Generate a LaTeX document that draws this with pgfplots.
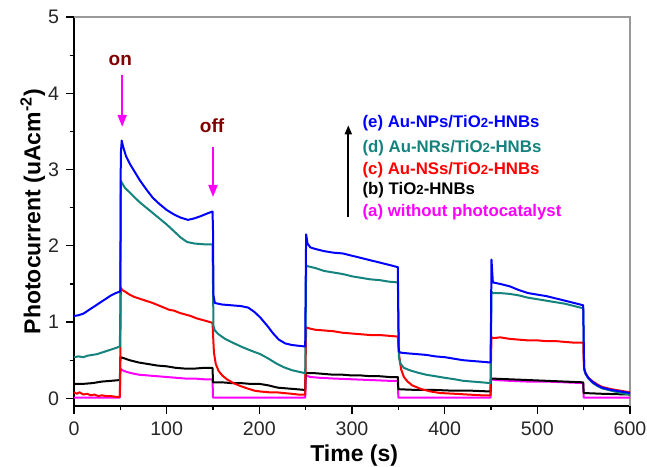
\documentclass[border=0pt]{standalone}
\usepackage{pgfplots}
\pgfplotsset{compat=1.18}
\usepackage{fontspec}
\setmainfont{Liberation Sans}
\usetikzlibrary{arrows.meta}

\definecolor{cE}{RGB}{0,0,255}
\definecolor{cD}{RGB}{20,130,125}
\definecolor{cC}{RGB}{255,0,0}
\definecolor{cB}{RGB}{0,0,0}
\definecolor{cA}{RGB}{255,0,255}
\definecolor{onoff}{RGB}{128,0,0}

\newcommand{\tio}{TiO{\fontsize{6.6}{7}\selectfont 2}}

\begin{document}
\begin{tikzpicture}
\begin{axis}[
    name=ax,
    scale only axis,
    width=278pt, height=194.5pt,
    xmin=0, xmax=600, ymin=-0.1, ymax=5,
    axis x line*=bottom, axis y line*=left,
    axis line style={-, line width=0.7pt},
    xtick={0,100,...,600}, minor xtick={50,150,...,550},
    ytick={0,1,...,5}, minor ytick={0.5,1.5,...,4.5},
    tick align=outside,
    major tick length=4pt, minor tick length=2.2pt,
    tick style={line width=0.6pt, black},
    /pgf/number format/assume math mode=true,
    ticklabel style={font=\fontsize{9.8}{11}\selectfont, text=black!85},
    xticklabel style={yshift=-0.5pt},
    xlabel={\textbf{Time (s)}},
    ylabel={\textbf{Photocurrent (uAcm\textsuperscript{-2})}},
    label style={font=\fontsize{11.5}{13}\selectfont},
    xlabel style={at={(axis description cs:0.504,-0.128)}, anchor=center},
    ylabel style={at={(axis description cs:-0.074,0.5)}, anchor=center},
    every axis plot/.append style={line width=1pt, line join=round},
    clip=false,
]
\draw[gray!80, line width=0.7pt] (rel axis cs:0,1) -- (rel axis cs:1,1) -- (rel axis cs:1,0);

% (a) without photocatalyst
\addplot[cA] coordinates {
(0,0.01) (49.5,0.01) (50,0.39) (52,0.37) (56,0.35) (62,0.33) (70,0.31) (80,0.30)
(90,0.29) (100,0.28) (110,0.27) (120,0.26) (130,0.26) (140,0.25) (149.5,0.25)
(150,0.01) (249.5,0.01) (250,0.30) (255,0.28) (265,0.27) (280,0.26) (300,0.25)
(320,0.24) (340,0.23) (349.5,0.23) (350,0.01) (449.5,0.01) (450,0.25) (455,0.24)
(470,0.23) (490,0.22) (510,0.22) (530,0.21) (549.5,0.20) (550,0.01) (600,0.01)
};
% (b) TiO2-HNBs
\addplot[cB] coordinates {
(0,0.19) (10,0.19) (20,0.20) (30,0.22) (40,0.23) (49.5,0.24) (50,0.54) (53,0.53)
(60,0.50) (70,0.47) (80,0.45) (90,0.43) (100,0.42) (110,0.40) (120,0.39) (130,0.39)
(140,0.40) (149.5,0.40) (150,0.21) (160,0.21) (170,0.20) (180,0.20) (190,0.19)
(200,0.19) (210,0.17) (220,0.14) (230,0.13) (240,0.12) (249.5,0.11) (250,0.33)
(260,0.33) (270,0.32) (280,0.31) (290,0.31) (300,0.30) (310,0.30) (320,0.29)
(330,0.29) (340,0.28) (349.5,0.28) (350,0.12) (370,0.11) (390,0.11) (410,0.10)
(430,0.10) (449.5,0.09) (450,0.26) (470,0.25) (490,0.24) (510,0.23) (530,0.22)
(549.5,0.21) (550,0.07) (570,0.06) (600,0.05)
};
% (c) Au-NSs/TiO2-HNBs
\addplot[cC] coordinates {
(0,0.08) (3,0.06) (6,0.08) (10,0.05) (14,0.06) (18,0.04) (22,0.05) (26,0.03)
(30,0.04) (35,0.03) (40,0.03) (45,0.02) (49.5,0.02) (50,0.60) (50.5,1.45) (52,1.42)
(55,1.40) (60,1.36) (65,1.33) (70,1.31) (75,1.29) (80,1.27) (85,1.25) (91,1.22)
(97,1.19) (103,1.16) (108,1.15) (114,1.12) (120,1.10) (126,1.08) (132,1.05)
(138,1.03) (144,1.01) (149.5,0.99) (150,0.85) (151,0.60) (153,0.45) (156,0.36)
(160,0.30) (165,0.25) (172,0.20) (180,0.16) (187,0.13) (195,0.10) (201,0.09)
(210,0.08) (218,0.08) (226,0.07) (235,0.06) (242,0.05) (249.5,0.05) (250,0.50)
(250.5,0.93) (253,0.92) (260,0.90) (270,0.89) (280,0.88) (290,0.86) (300,0.85)
(310,0.84) (320,0.83) (330,0.83) (340,0.82) (349.5,0.81) (350,0.70) (351,0.55)
(353,0.38) (356,0.28) (360,0.22) (365,0.17) (375,0.12) (385,0.09) (395,0.07)
(411,0.06) (425,0.05) (440,0.04) (449.5,0.04) (450,0.50) (450.5,0.80) (453,0.79)
(460,0.80) (470,0.78) (480,0.77) (490,0.76) (500,0.76) (510,0.75) (520,0.75)
(530,0.74) (540,0.73) (549.5,0.73) (550,0.50) (550.5,0.38) (552,0.33) (555,0.27)
(560,0.22) (565,0.18) (570,0.15) (580,0.12) (590,0.10) (600,0.08)
};
% (d) Au-NRs/TiO2-HNBs
\addplot[cD] coordinates {
(0,0.54) (5,0.55) (10,0.54) (15,0.56) (20,0.57) (25,0.58) (30,0.60) (35,0.62)
(40,0.64) (45,0.66) (49.5,0.68) (50,1.20) (50.5,2.85) (52,2.82) (55,2.76) (60,2.70)
(65,2.64) (71,2.57) (78,2.50) (85,2.43) (92,2.36) (100,2.28) (108,2.19) (115,2.11)
(122,2.05) (130,2.03) (140,2.02) (149.5,2.02) (150,1.50) (150.5,0.95) (152,0.89)
(156,0.84) (163,0.78) (173,0.72) (182,0.67) (190,0.63) (201,0.58) (210,0.52)
(218,0.46) (226,0.41) (235,0.37) (242,0.35) (249.5,0.33) (250,1.00) (250.5,1.74)
(253,1.73) (260,1.71) (270,1.67) (280,1.65) (290,1.63) (300,1.60) (310,1.58)
(320,1.56) (330,1.55) (340,1.53) (349.5,1.52) (350,1.10) (350.5,0.55) (352,0.46)
(356,0.40) (362,0.37) (370,0.34) (380,0.31) (390,0.29) (400,0.27) (411,0.25)
(420,0.23) (430,0.22) (440,0.21) (449.5,0.20) (450,0.80) (450.5,1.40) (452,1.38)
(460,1.38) (470,1.37) (480,1.35) (490,1.32) (500,1.30) (510,1.28) (520,1.26)
(530,1.24) (540,1.21) (549.5,1.18) (550,0.80) (550.5,0.38) (552,0.32) (555,0.26)
(560,0.20) (565,0.16) (570,0.13) (580,0.10) (590,0.07) (600,0.05)
};
% (e) Au-NPs/TiO2-HNBs
\addplot[cE] coordinates {
(0,1.08) (5,1.09) (10,1.11) (15,1.15) (20,1.19) (25,1.23) (30,1.27) (35,1.31)
(40,1.35) (45,1.38) (49.5,1.40) (50,1.42) (50.5,3.20) (51.5,3.38) (53,3.30)
(56,3.18) (60,3.08) (65,2.98) (71,2.86) (78,2.74) (85,2.63) (92,2.55) (100,2.47)
(108,2.41) (115,2.37) (123,2.34) (130,2.36) (137,2.39) (143,2.42) (149.5,2.45)
(150,2.20) (150.5,1.35) (152,1.25) (160,1.23) (170,1.22) (180,1.21) (188,1.19)
(195,1.13) (201,1.06) (208,0.96) (215,0.85) (221,0.77) (228,0.72) (235,0.70)
(242,0.69) (249.5,0.68) (250,1.50) (250.5,2.15) (252,2.03) (255,1.98) (260,1.96)
(270,1.93) (280,1.91) (290,1.90) (300,1.87) (310,1.84) (320,1.81) (330,1.78)
(340,1.75) (349.5,1.72) (350,1.00) (350.5,0.62) (352,0.60) (360,0.59) (370,0.58)
(380,0.57) (390,0.55) (400,0.54) (410,0.52) (420,0.50) (430,0.49) (440,0.48)
(449.5,0.47) (450,1.00) (450.5,1.82) (452,1.52) (460,1.50) (470,1.47) (480,1.42)
(490,1.38) (500,1.36) (510,1.34) (520,1.31) (530,1.28) (540,1.25) (549.5,1.22)
(550,0.80) (550.5,0.40) (552,0.33) (555,0.27) (560,0.21) (565,0.17) (570,0.14)
(580,0.11) (590,0.09) (600,0.07)
};

% on / off annotations
\node[anchor=base, text=onoff, font=\fontsize{9.5}{11}\selectfont\bfseries] at (axis cs:50,4.37) {on};
\draw[cA, line width=1pt, -{Triangle[length=6pt, width=4.5pt]}] (axis cs:52,4.24) -- (axis cs:52,3.56);
\node[anchor=base, text=onoff, font=\fontsize{9.5}{11}\selectfont\bfseries] at (axis cs:149,3.49) {off};
\draw[cA, line width=1pt, -{Triangle[length=6pt, width=4.5pt]}] (axis cs:150,3.29) -- (axis cs:150,2.64);

% labels
\draw[black, line width=0.9pt, -{Triangle[length=4.5pt, width=3.5pt]}] (axis cs:296,2.38) -- (axis cs:296,3.58);
\begin{scope}[every node/.style={anchor=west, inner sep=0pt, font=\fontsize{8.4}{9.5}\selectfont\bfseries}]
\node[text=cE] at (axis cs:311,3.61) {(e) Au-NPs/\tio-HNBs};
\node[text=cD] at (axis cs:311,3.28) {(d) Au-NRs/\tio-HNBs};
\node[text=cC] at (axis cs:311,2.99) {(c) Au-NSs/\tio-HNBs};
\node[text=cB] at (axis cs:311,2.73) {(b) \tio-HNBs};
\node[text=cA] at (axis cs:311,2.44) {(a) without photocatalyst};
\end{scope}
\end{axis}
\pgfresetboundingbox
\path[use as bounding box] ([xshift=-37pt,yshift=-30.5pt]ax.south west) rectangle ([xshift=8.5pt,yshift=8.5pt]ax.north east);
\end{tikzpicture}
\end{document}
